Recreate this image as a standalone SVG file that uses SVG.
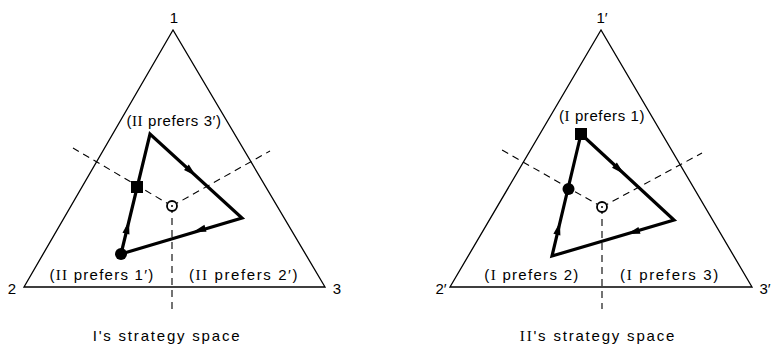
<svg xmlns="http://www.w3.org/2000/svg" width="774" height="349" viewBox="0 0 774 349">
<style>
.tri{fill:none;stroke:#000;stroke-width:1.3;stroke-linejoin:miter}
.dash{fill:none;stroke:#000;stroke-width:1.1;stroke-dasharray:7,5}
.path{fill:none;stroke:#000;stroke-width:3.2;stroke-linejoin:miter}
.lbl{font-family:"Liberation Sans",Arial,sans-serif;font-size:15px;text-anchor:middle;fill:#000}
.rn{font-family:"Liberation Serif","Times New Roman",serif}
.vtx{font-family:"Liberation Sans",Arial,sans-serif;font-size:15px;text-anchor:middle;fill:#000}
.ttl{font-family:"Liberation Sans",Arial,sans-serif;font-size:15px;letter-spacing:1.8px;text-anchor:middle;fill:#000}
.eq{fill:#fff;stroke:#000;stroke-width:1.8}
</style>
<defs>
<path id="ah" d="M0,0 L-13,-3.6 L-13,3.6 Z" fill="#000"/>
</defs>
<rect width="774" height="349" fill="#fff"/>

<g id="left-space">
<g id="left-triangle">
<polygon class="tri" points="173,30 24,287 325,287"/>
<text class="vtx" x="174" y="23">1</text>
<text class="vtx" x="12" y="294">2</text>
<text class="vtx" x="337" y="294">3</text>
</g>
<g id="left-regions">
<line class="dash" x1="172" y1="206" x2="73" y2="148"/>
<line class="dash" x1="172" y1="206" x2="270" y2="151"/>
<line class="dash" x1="172" y1="206" x2="172" y2="309"/>
</g>
<g id="left-labels">
<text class="lbl" x="174" y="126" style="letter-spacing:0.6px">(<tspan class="rn">II</tspan> prefers 3′)</text>
<text class="lbl" x="102" y="280" style="letter-spacing:1.25px">(<tspan class="rn">II</tspan> prefers 1′)</text>
<text class="lbl" x="244" y="280" style="letter-spacing:1.6px">(<tspan class="rn">II</tspan> prefers 2′)</text>
<text class="ttl" x="167" y="341">I's strategy space</text>
</g>
<g id="left-cycle">
<polyline class="path" points="121,254 150,134 242,218 121,254"/>
<use href="#ah" transform="translate(129,221) rotate(-76.4)"/>
<use href="#ah" transform="translate(196,176) rotate(42.4)"/>
<use href="#ah" transform="translate(193,232) rotate(163.4)"/>
</g>
<g id="left-points">
<circle cx="121" cy="254" r="6" fill="#000"/>
<rect x="131" y="181" width="12" height="12" fill="#000"/>
<circle class="eq" cx="172" cy="206" r="5"/>
<circle cx="172" cy="206" r="1" fill="#000"/>
</g>
</g>

<g id="right-space">
<g id="right-triangle">
<polygon class="tri" points="601,30 450,287 752,287"/>
<text class="vtx" x="602" y="23">1′</text>
<text class="vtx" x="441" y="294">2′</text>
<text class="vtx" x="765" y="294">3′</text>
</g>
<g id="right-regions">
<line class="dash" x1="602" y1="207" x2="502" y2="150"/>
<line class="dash" x1="602" y1="207" x2="702" y2="153"/>
<line class="dash" x1="602" y1="207" x2="602" y2="309"/>
</g>
<g id="right-labels">
<text class="lbl" x="602" y="121" style="letter-spacing:0.6px">(<tspan class="rn">I</tspan> prefers 1)</text>
<text class="lbl" x="532" y="280" style="letter-spacing:1.3px">(<tspan class="rn">I</tspan> prefers 2)</text>
<text class="lbl" x="670" y="280" style="letter-spacing:1.65px">(<tspan class="rn">I</tspan> prefers 3)</text>
<text class="ttl" x="598" y="341"><tspan class="rn">II</tspan>'s strategy space</text>
</g>
<g id="right-cycle">
<polyline class="path" points="581,134 674,220 552,256 581,134"/>
<use href="#ah" transform="translate(624,174) rotate(42.7)"/>
<use href="#ah" transform="translate(627,234) rotate(163.6)"/>
<use href="#ah" transform="translate(560,222) rotate(-76.1)"/>
</g>
<g id="right-points">
<rect x="575" y="128" width="12" height="12" fill="#000"/>
<circle cx="568.5" cy="189" r="6" fill="#000"/>
<circle class="eq" cx="602" cy="207" r="5"/>
<circle cx="602" cy="207" r="1" fill="#000"/>
</g>
</g>
</svg>
